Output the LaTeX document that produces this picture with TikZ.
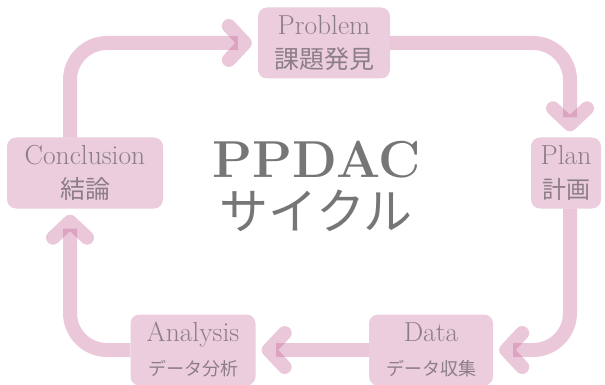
\documentclass[tikz,border=0pt]{standalone}
\usepackage{fontspec}
\newfontfamily\jp{Noto Sans CJK JP}
\usetikzlibrary{arrows.meta}
\definecolor{pk}{RGB}{197,102,152}
\definecolor{txt}{RGB}{140,126,137}
\definecolor{ctr}{RGB}{118,118,118}
\begin{document}
\begin{tikzpicture}[x=1pt,y=-1pt,
  box/.style={draw=none, fill=pk, fill opacity=0.33, text opacity=1,
    rounded corners=9pt, inner sep=0pt, minimum height=71pt, align=center,
    text=txt, font=\fontsize{27.5}{34}\selectfont},
  arr/.style={draw=pk, draw opacity=0.36, line width=14pt, rounded corners=37pt,
    -{Straight Barb[round, length=16pt, width=34pt]}, shorten >=6pt}]
\useasboundingbox (0,0) rectangle (605,385);
\node[box, minimum width=132pt] (Problem) at (324,43) {Problem\\{\jp\fontsize{25}{30}\selectfont 課題発見}};
\node[box, minimum width=70pt] (Plan) at (566,173) {Plan\\{\jp\fontsize{24}{30}\selectfont 計画}};
\node[box, minimum width=156pt] (Conclusion) at (85,173) {Conclusion\\{\jp\fontsize{25}{30}\selectfont 結論}};
\node[box, minimum width=125pt] (Analysis) at (193,350) {Analysis\\{\jp\fontsize{18}{24}\selectfont データ分析}};
\node[box, minimum width=124pt] (Data) at (431,350) {Data\\{\jp\fontsize{18}{24}\selectfont データ収集}};
\node[text=ctr, inner sep=0pt, anchor=base, text depth=0pt] (title) at (317,178) {\bfseries\fontsize{52}{60}\selectfont PPDAC};
\node[text=ctr, inner sep=0pt, anchor=base, text height=37pt, text depth=2pt] (sub) at (316,229) {\jp\fontsize{49}{56}\selectfont サイクル};
\coordinate (R) at (570,0);
\coordinate (L) at (70,0);
\draw[arr] (Problem.east) -| (R |- Plan.north);
\draw[arr] (R |- Plan.south) |- (Data.east);
\draw[arr] (Data.west) -- (Analysis.east);
\draw[arr] (Analysis.west) -| (L |- Conclusion.south);
\draw[arr] (L |- Conclusion.north) |- (Problem.west);
\end{tikzpicture}
\end{document}
